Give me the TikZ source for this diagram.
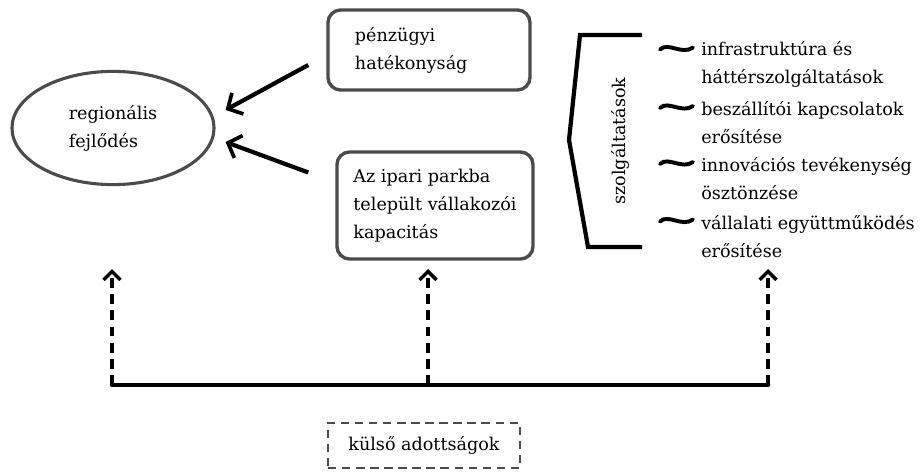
\documentclass[tikz,border=0pt]{standalone}
\usepackage{fontspec}
\setmainfont{DejaVu Serif}
\usetikzlibrary{shapes.geometric,arrows.meta,calc}
\definecolor{outline}{RGB}{75,75,75}
\tikzset{
	roundbox/.style={draw=outline, line width=2.4pt, rounded corners=9pt, align=left},
	dashbox/.style={draw=outline, line width=1.7pt, dash pattern=on 6pt off 4pt},
	bigarrow/.style={line width=3pt, -{Straight Barb[length=8pt,width=17pt,line width=2.6pt]}},
	dasharrow/.style={line width=3pt, dash pattern=on 7pt off 4.5pt, -{Straight Barb[length=6pt,width=12pt,line width=2.4pt]}},
	groundline/.style={line width=3.2pt, line cap=round},
	bracket/.style={line width=3pt},
	tilde/.style={line width=2.8pt, line cap=round}
}
\begin{document}
\begin{tikzpicture}[x=0.025cm,y=-0.025cm,font=\fontsize{12.5}{20}\selectfont]
	\useasboundingbox (0,0) rectangle (924,472);
	\node[ellipse, draw=outline, line width=2.2pt, minimum width=5.05cm, minimum height=2.83cm, align=left] (region) at (113,128) {regionális\\fejlődés};
	\node[roundbox, text width=3.7cm, inner xsep=0.675cm, minimum height=2cm] (penz) at (429,50) {pénzügyi\\hatékonyság};
	\node[roundbox, minimum width=4.9cm, minimum height=2.675cm] (ipar) at (435,205.5) {Az ipari parkba\\települt vállakozói\\kapacitás};
	\coordinate (in1) at ($(region.east)+(10,-18)$);
	\coordinate (in2) at ($(region.east)+(10,14)$);
	\draw[bigarrow] ($(penz.west)+(-18,15)$) -- (in1);
	\draw[bigarrow] ($(ipar.west)+(-27,-33)$) -- (in2);

	% szolgaltatasok
	\draw[bracket] (642,35) -- (580,35) -- (569,140) -- (588,247) -- (642,247);
	\node[rotate=90] (szolg) at (620,141) {szolgáltatások};
	\foreach \y/\t [count=\i] in {64.5/{infrastruktúra és\\háttérszolgáltatások}, 123/{beszállítói kapcsolatok\\erősítése}, 179/{innovációs tevékenység\\ösztönzése}, 236.5/{vállalati együttműködés\\erősítése}} {
		\node[anchor=west, align=left, inner sep=0pt] (item\i) at (701,\y) {\t};
		\draw[tilde] (660,\y-15) .. controls (668,\y-23) and (682,\y-9) .. (693,\y-17);
	}

	% kulso adottsagok
	\coordinate (b1) at (112,385);
	\coordinate (b3) at (768,385);
	\draw[groundline] (b1) -- (b3);
	\foreach \n/\x in {1/112, 2/428, 3/768} {
		\coordinate (t\n) at (\x,269);
		\draw[dasharrow] (\x,385) -- (t\n);
	}
	\node[dashbox, minimum width=4.8cm, minimum height=1.125cm] (kulso) at (424,445.5) {külső adottságok};
\end{tikzpicture}
\end{document}
